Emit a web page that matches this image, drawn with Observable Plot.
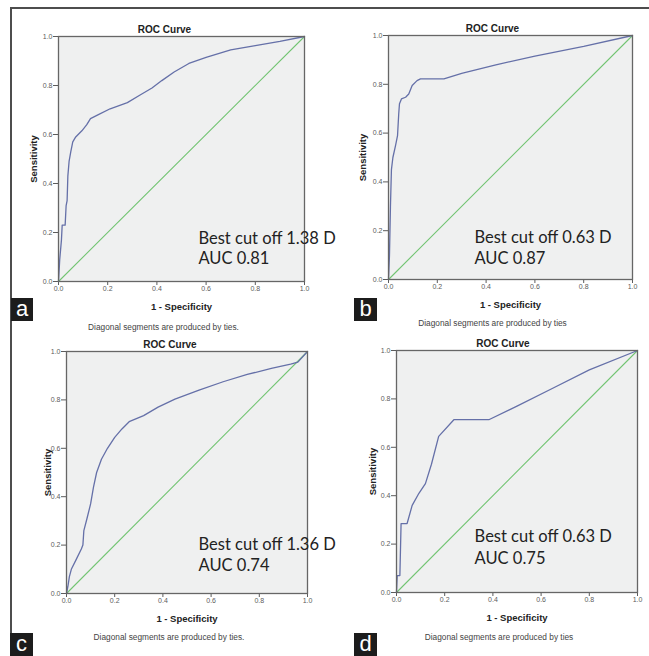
<!DOCTYPE html>
<html><head><meta charset="utf-8">
<script src="https://cdn.jsdelivr.net/npm/d3@7"></script>
<script src="https://cdn.jsdelivr.net/npm/@observablehq/plot@0.6"></script>
<style>
html,body{margin:0;padding:0;background:#fff;}
#wrap{position:relative;width:649px;height:656px;overflow:hidden;background:#fff;}
#wrap svg{position:absolute;}
.rule{position:absolute;background:#4d4d4d;}
.plate{position:absolute;background:#1c1c1c;color:#fff;font-family:"Liberation Sans",Arial,sans-serif;font-size:22px;line-height:21px;text-align:center;}
</style></head><body><div id="wrap"></div>
<script>
// ---- data ----
const ticks = [0, 0.2, 0.4, 0.6, 0.8, 1.0];
const diagonal = [0, 1];
const letters = ["a", "b", "c", "d"];
const cutoffs = ["1.38 D", "0.63 D", "1.36 D", "0.63 D"];
const aucs = ["0.81", "0.87", "0.74", "0.75"];
const footnotes = ["Diagonal segments are produced by ties.", "Diagonal segments are produced by ties", "Diagonal segments are produced by ties.", "Diagonal segments are produced by ties"];

const fprA = [0, 0.005, 0.012, 0.015, 0.027, 0.031, 0.035, 0.038, 0.043, 0.05, 0.058, 0.07, 0.095, 0.115, 0.13, 0.16, 0.21, 0.28, 0.33, 0.38, 0.42, 0.47, 0.53, 0.6, 0.7, 0.8, 0.9, 1];
const tprA = [0, 0.09, 0.17, 0.23, 0.23, 0.31, 0.33, 0.43, 0.49, 0.53, 0.57, 0.59, 0.615, 0.64, 0.665, 0.68, 0.705, 0.73, 0.76, 0.79, 0.82, 0.855, 0.89, 0.915, 0.945, 0.963, 0.98, 1];

const fprB = [0, 0.004, 0.008, 0.012, 0.018, 0.029, 0.037, 0.042, 0.045, 0.053, 0.07, 0.083, 0.097, 0.117, 0.131, 0.227, 0.3, 0.44, 0.6, 0.8, 1];
const tprB = [0, 0.1, 0.3, 0.45, 0.5, 0.55, 0.59, 0.68, 0.72, 0.74, 0.747, 0.76, 0.795, 0.815, 0.822, 0.822, 0.845, 0.88, 0.915, 0.955, 1];

const fprC = [0, 0.006, 0.012, 0.02, 0.04, 0.062, 0.068, 0.072, 0.085, 0.1, 0.112, 0.125, 0.145, 0.17, 0.2, 0.23, 0.26, 0.32, 0.38, 0.45, 0.55, 0.65, 0.75, 0.85, 0.93, 0.96, 1];
const tprC = [0, 0.03, 0.07, 0.1, 0.14, 0.185, 0.2, 0.26, 0.31, 0.37, 0.44, 0.5, 0.555, 0.6, 0.645, 0.68, 0.71, 0.735, 0.77, 0.803, 0.84, 0.875, 0.905, 0.93, 0.948, 0.956, 1];

const fprD = [0, 0.003, 0.014, 0.019, 0.044, 0.065, 0.093, 0.12, 0.145, 0.175, 0.238, 0.383, 0.5, 0.64, 0.8, 1];
const tprD = [0, 0.07, 0.07, 0.285, 0.285, 0.36, 0.41, 0.45, 0.53, 0.645, 0.714, 0.714, 0.77, 0.84, 0.92, 1];

const fprs = [fprA, fprB, fprC, fprD];
const tprs = [tprA, tprB, tprC, tprD];

// ---- layout ----
const layout = [
  {left: 0,   top: 0,   w: 330, h: 330, ml: 58, mr: 26, mt: 36, mb: 49, ylab: -25, tdx: -17, fdy: 46, fdx: -18, ax: 0.569, ay: [0.174, 0.092], box: [11, 298, 22, 23]},
  {left: 330, top: 0,   w: 319, h: 330, ml: 58, mr: 17, mt: 35, mb: 51, ylab: -26, tdx: -18, fdy: 44, fdx: -18, ax: 0.352, ay: [0.170, 0.086], box: [354, 298, 23, 23]},
  {left: 0,   top: 330, w: 330, h: 326, ml: 66, mr: 23, mt: 21, mb: 63, ylab: -19, tdx: -17, fdy: 44, fdx: -18, ax: 0.548, ay: [0.200, 0.113], box: [10, 633, 23, 23]},
  {left: 330, top: 330, w: 319, h: 326, ml: 66, mr: 12, mt: 20, mb: 64, ylab: -24, tdx: -14, fdy: 45, fdx: -18, ax: 0.324, ay: [0.229, 0.138], box: [354, 633, 23, 23]}
];

const wrap = document.getElementById("wrap");
const sans = "'Liberation Sans', Arial, sans-serif";
const fmt = d3.format(".1f");

layout.forEach((L, i) => {
  const curve = fprs[i].map((x, k) => ({x, y: tprs[i][k]}));
  const diag = diagonal.map(v => ({x: v, y: v}));
  const notes = [
    {t: `Best cut off ${cutoffs[i]}`, y: L.ay[0]},
    {t: `AUC ${aucs[i]}`, y: L.ay[1]}
  ];
  const svg = Plot.plot({
    width: L.w, height: L.h,
    marginLeft: L.ml, marginRight: L.mr, marginTop: L.mt, marginBottom: L.mb,
    style: {background: "transparent", overflow: "visible", fontFamily: sans, fontSize: "7px", color: "#5c5c5c"},
    x: {domain: [0, 1], ticks, tickFormat: fmt, tickSize: 4, tickPadding: 1, label: null},
    y: {domain: [0, 1], ticks, tickFormat: fmt, tickSize: 5, tickPadding: 1, label: null},
    marks: [
      Plot.frame({fill: "#eff0f0", stroke: "none"}),
      Plot.line(diag, {x: "x", y: "y", stroke: "#72c472", strokeWidth: 1.1}),
      Plot.line(curve, {x: "x", y: "y", stroke: "#6570a8", strokeWidth: 1.3}),
      Plot.frame({stroke: "#666", strokeWidth: 1.3}),
      Plot.text(["ROC Curve"], {frameAnchor: "top", lineAnchor: "middle", textAnchor: "middle", dy: -7, dx: L.tdx, text: d => d, fontWeight: "bold", fontSize: 10, fill: "#222"}),
      Plot.text(["1 - Specificity"], {frameAnchor: "bottom", lineAnchor: "middle", textAnchor: "middle", dy: 25, text: d => d, fontWeight: "bold", fontSize: 9.5, fill: "#222"}),
      Plot.text([footnotes[i]], {frameAnchor: "bottom", lineAnchor: "middle", textAnchor: "middle", dy: L.fdy, dx: L.fdx, text: d => d, fontSize: 8.3, fill: "#444"}),
      Plot.text(["Sensitivity"], {frameAnchor: "left", lineAnchor: "middle", textAnchor: "middle", dx: L.ylab, rotate: -90, text: d => d, fontWeight: "bold", fontSize: 9.5, fill: "#222"}),
      Plot.text(notes, {x: () => L.ax, y: "y", text: "t", textAnchor: "start", lineAnchor: "middle", fontFamily: "Lato, 'Open Sans', sans-serif", fontSize: 16.5, fill: "#222"})
    ]
  });
  svg.style.left = L.left + "px";
  svg.style.top = L.top + "px";
  wrap.appendChild(svg);
});

// outer border lines (top and left)
const topRule = document.createElement("div");
topRule.className = "rule";
Object.assign(topRule.style, {left: "10px", top: "7px", width: "639px", height: "1.5px"});
wrap.appendChild(topRule);
const leftRule = document.createElement("div");
leftRule.className = "rule";
Object.assign(leftRule.style, {left: "10px", top: "7px", width: "1.5px", height: "649px"});
wrap.appendChild(leftRule);

// panel letters
layout.forEach((L, i) => {
  const b = document.createElement("div");
  b.className = "plate";
  const [x, y, w, h] = L.box;
  Object.assign(b.style, {left: x + "px", top: y + "px", width: w + "px", height: h + "px"});
  b.textContent = letters[i];
  wrap.appendChild(b);
});
</script></body></html>
